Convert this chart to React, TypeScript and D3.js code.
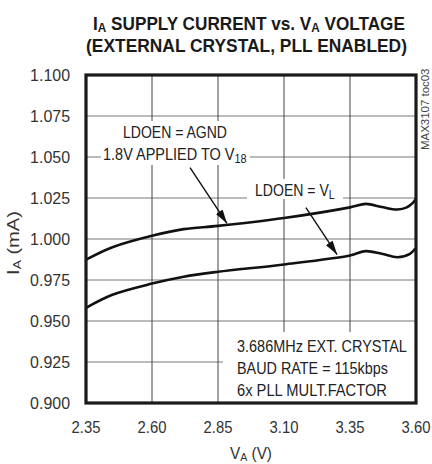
import React, { useLayoutEffect, useRef, useState } from 'react';
import * as d3 from 'd3';

// (MAX3107 toc03)
const vTicks = [2.35, 2.6, 2.85, 3.1, 3.35, 3.6];
const iTicks = [0.9, 0.925, 0.95, 0.975, 1.0, 1.025, 1.05, 1.075, 1.1];

const voltsAgnd = [2.35, 2.45, 2.6, 2.72, 2.85, 3.1, 3.35, 3.41, 3.47, 3.53, 3.565, 3.588, 3.6];
const currAgnd = [0.9874, 0.995, 1.002, 1.006, 1.008, 1.0128, 1.0193, 1.0214, 1.0195, 1.018, 1.0193, 1.022, 1.0246];

const voltsVl = [2.35, 2.45, 2.6, 2.72, 2.85, 3.1, 3.35, 3.41, 3.47, 3.53, 3.577, 3.6];
const currVl = [0.958, 0.966, 0.9728, 0.977, 0.98, 0.9845, 0.99, 0.9926, 0.991, 0.9889, 0.991, 0.9947];

const W = 432;
const H = 464;
const left = 86, right = 416, top = 75, bottom = 403;
const FONT = '"Liberation Sans Narrow", "Liberation Sans", Arial, sans-serif';

// text squeezed horizontally to a given width (the original uses a condensed face)
function Fit({ x, y, width, anchor = 'start', rotate = false, children, ...rest }: any) {
  const ref = useRef<SVGTextElement>(null);
  const [s, setS] = useState(1);
  useLayoutEffect(() => {
    if (!ref.current) return;
    const w = ref.current.getBBox().width;
    if (w > 0) setS(width / w);
  }, [width]);
  const tf = `translate(${x},${y})${rotate ? ' rotate(-90)' : ''} scale(${s},1)`;
  return (
    <text ref={ref} x={0} y={0} textAnchor={anchor} transform={tf} {...rest}>{children}</text>
  );
}

export default function App() {
  const x = d3.scaleLinear().domain([2.35, 3.6]).range([left, right]);
  const y = d3.scaleLinear().domain([0.9, 1.1]).range([bottom, top]);

  const line = d3.line<[number, number]>()
    .x(d => x(d[0]))
    .y(d => y(d[1]))
    .curve(d3.curveCatmullRom.alpha(0.5));

  const agnd = voltsAgnd.map((v, i) => [v, currAgnd[i]] as [number, number]);
  const vl = voltsVl.map((v, i) => [v, currVl[i]] as [number, number]);

  // annotation arrows in data space
  const arrow1 = { x1: x(2.744), y1: y(1.0435), x2: x(2.884), y2: y(1.0095) };
  const arrow2 = { x1: x(3.183), y1: y(1.0191), x2: x(3.301), y2: y(0.9905) };

  return (
    <svg width={W} height={H} style={{ position: 'absolute', left: 0, top: 0, background: '#fff' }}
      fontFamily={FONT}>
      <defs>
        <marker id="head" viewBox="0 0 14 8" refX="14" refY="4" markerWidth="14" markerHeight="8"
          markerUnits="userSpaceOnUse" orient="auto">
          <path d="M0,0 L14,4 L0,8 Z" fill="#111" />
        </marker>
      </defs>

      {/* title */}
      <Fit x={249} y={30} width={312} anchor="middle" fontSize={19} fontWeight="bold" fill="#1a1a1a">
        I<tspan fontSize={13} dy={2}>A</tspan><tspan dy={-2}> SUPPLY CURRENT vs. V</tspan>
        <tspan fontSize={13} dy={2}>A</tspan><tspan dy={-2}> VOLTAGE</tspan>
      </Fit>
      <Fit x={246.5} y={52} width={321} anchor="middle" fontSize={19} fontWeight="bold" fill="#1a1a1a">
        (EXTERNAL CRYSTAL, PLL ENABLED)
      </Fit>

      {/* grid */}
      {iTicks.slice(1, -1).map(t => (
        <line key={'h' + t} x1={left} x2={right} y1={y(t)} y2={y(t)} stroke="#777" strokeWidth={1} />
      ))}
      {vTicks.slice(1, -1).map(t => (
        <line key={'v' + t} x1={x(t)} x2={x(t)} y1={top} y2={bottom} stroke="#444" strokeWidth={1} />
      ))}

      {/* label knockouts */}
      <rect x={101} y={121} width={149} height={44} fill="#fff" />
      <rect x={247} y={179} width={96} height={20} fill="#fff" />
      <rect x={223} y={332} width={right - 223} height={bottom - 332} fill="#fff" />

      {/* curves */}
      <path d={line(agnd) || ''} fill="none" stroke="#111" strokeWidth={2.6} />
      <path d={line(vl) || ''} fill="none" stroke="#111" strokeWidth={2.6} />

      {/* frame */}
      <rect x={left} y={top} width={right - left} height={bottom - top} fill="none" stroke="#1a1a1a" strokeWidth={3.2} />

      {/* y ticks */}
      {iTicks.map(t => (
        <Fit key={'yl' + t} x={70} y={y(t) + 6} width={40} anchor="end" fontSize={16} fill="#333">
          {t.toFixed(3)}
        </Fit>
      ))}
      {/* x ticks */}
      {vTicks.map(t => (
        <Fit key={'xl' + t} x={x(t)} y={433} width={29} anchor="middle" fontSize={16} fill="#333">
          {t.toFixed(2)}
        </Fit>
      ))}

      {/* axis titles */}
      <Fit x={251} y={459} width={42} anchor="middle" fontSize={16} fill="#333">
        V<tspan fontSize={11} dy={2}>A</tspan><tspan dy={-2}> (V)</tspan>
      </Fit>
      <Fit x={19} y={243} width={64} anchor="middle" rotate fontSize={16} fill="#333">
        I<tspan fontSize={11} dy={2}>A</tspan><tspan dy={-2}> (mA)</tspan>
      </Fit>

      {/* side code */}
      <Fit x={429} y={150} width={82} rotate fontSize={10} fill="#444">MAX3107 toc03</Fit>

      {/* annotations */}
      <Fit x={175} y={138} width={104} anchor="middle" fontSize={16} fill="#222">LDOEN = AGND</Fit>
      <Fit x={103} y={160} width={144} fontSize={16} fill="#222">
        1.8V APPLIED TO V<tspan fontSize={12} dy={3}>18</tspan>
      </Fit>
      <Fit x={255} y={196} width={80} fontSize={16} fill="#222">
        LDOEN = V<tspan fontSize={12} dy={3}>L</tspan>
      </Fit>
      <line {...arrow1} stroke="#111" strokeWidth={1.4} markerEnd="url(#head)" />
      <line {...arrow2} stroke="#111" strokeWidth={1.4} markerEnd="url(#head)" />

      <Fit x={237} y={352} width={170} fontSize={16} fill="#222">3.686MHz EXT. CRYSTAL</Fit>
      <Fit x={237} y={374} width={151} fontSize={16} fill="#222">BAUD RATE = 115kbps</Fit>
      <Fit x={237} y={396} width={150} fontSize={16} fill="#222">6x PLL MULT.FACTOR</Fit>
    </svg>
  );
}
